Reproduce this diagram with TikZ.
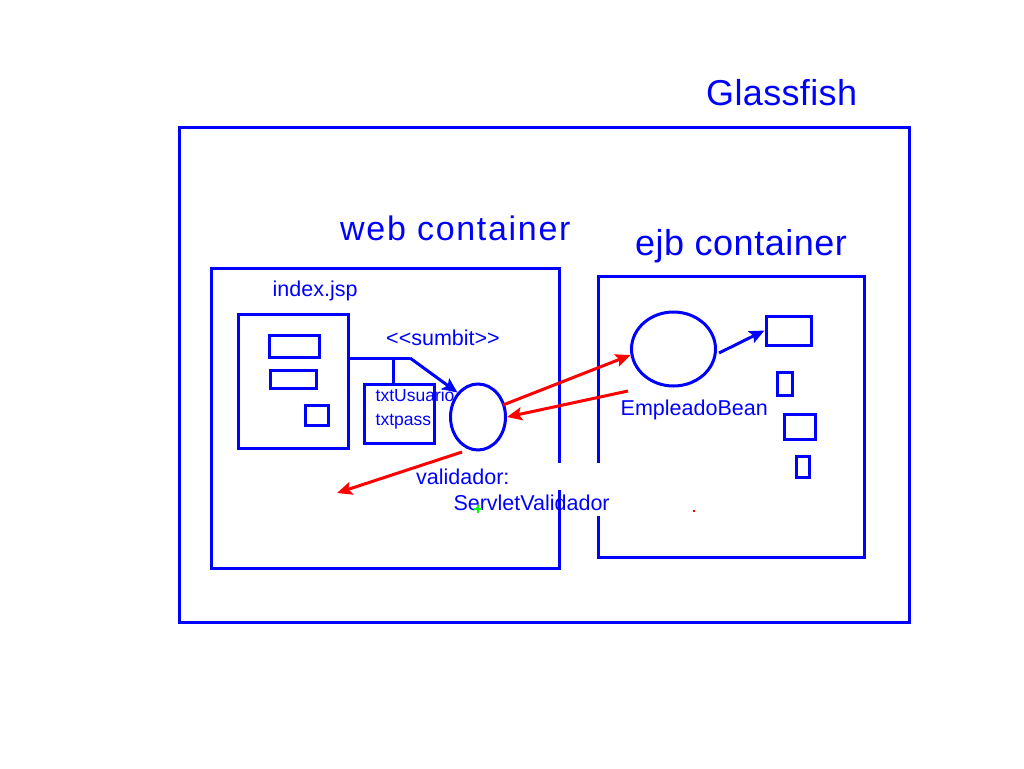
\documentclass[tikz,border=0pt]{standalone}
\usepackage{fontspec}
\setmainfont{Liberation Sans}
\usetikzlibrary{arrows.meta,shapes.geometric}
\definecolor{pblue}{RGB}{0,0,255}
\definecolor{pred}{RGB}{255,0,0}
\definecolor{pgreen}{RGB}{0,255,0}
\tikzset{
  bx/.style={draw=pblue, line width=3pt},
  bl/.style={draw=pblue, line width=3pt},
  rarr/.style={draw=pred, line width=3pt, -{Stealth[length=15pt,width=13pt,inset=3pt]}},
  barr/.style={draw=pblue, line width=3pt, -{Stealth[length=15pt,width=13pt,inset=3pt]}},
  lbl/.style={text=pblue, inner sep=0pt, anchor=base west},
  big/.style={lbl, font=\fontsize{36}{40}\selectfont},
  mid/.style={lbl, font=\fontsize{21.5}{24}\selectfont},
  sml/.style={lbl, font=\fontsize{17.5}{20}\selectfont},
}
\begin{document}
\begin{tikzpicture}[x=1pt,y=-1pt]
\useasboundingbox[fill=white] (0,0) rectangle (1024,768);
% containers
\node[bx, minimum width=730pt, minimum height=495pt, inner sep=0pt] (gf) at (544,374.5) {};
\node[bx, minimum width=348pt, minimum height=300pt, inner sep=0pt] (web) at (385,418) {};
\node[bx, minimum width=266pt, minimum height=281pt, inner sep=0pt] (ejb) at (731,416.5) {};
% gaps in the container edges
\fill[white] (556,463) rectangle (562,490);
\fill[white] (595,463) rectangle (601,516);
% form
\node[bx, minimum width=110pt, minimum height=134pt, inner sep=0pt] (form) at (293,381) {};
\node[bx, minimum width=50pt, minimum height=22pt, inner sep=0pt] (f1) at (294,346) {};
\node[bx, minimum width=46pt, minimum height=18pt, inner sep=0pt] (f2) at (293,379) {};
\node[bx, minimum width=23pt, minimum height=20pt, inner sep=0pt] (f3) at (316.5,415) {};
\node[bx, minimum width=70pt, minimum height=59pt, inner sep=0pt] (txt) at (399,413.5) {};
% servlet and bean
\node[bx, ellipse, minimum width=55pt, minimum height=66pt, inner sep=0pt] (srv) at (478,417) {};
\node[bx, ellipse, minimum width=84pt, minimum height=74pt, inner sep=0pt] (bean) at (673.5,349) {};
% ejb small boxes
\node[bx, minimum width=45pt, minimum height=29pt, inner sep=0pt] (e1) at (788.5,330.5) {};
\node[bx, minimum width=15pt, minimum height=23pt, inner sep=0pt] (e2) at (784.5,383.5) {};
\node[bx, minimum width=31pt, minimum height=25pt, inner sep=0pt] (e3) at (799.5,426.5) {};
\node[bx, minimum width=13pt, minimum height=21pt, inner sep=0pt] (e4) at (802.5,466.5) {};
% submit connector
\coordinate (s0) at (form.east |- 0,358);
\coordinate (s1) at (410,358);
\coordinate (s2) at (393,358);
\draw[bl] (s0) -- (s1);
\draw[barr] (s1) -- (srv.130);
\draw[bl] (s2) -- (s2 |- txt.north);
\coordinate (bo) at (719,353);
\draw[barr] (bo) -- (e1.west);
% red arrows
\coordinate (r1a) at (503,405);
\coordinate (r2a) at (628,391);
\coordinate (r3a) at (462,452);
\coordinate (r3b) at (337,493);
\draw[rarr] (r1a) -- (bean.188);
\draw[rarr] (r2a) -- (srv.east);
\draw[rarr] (r3a) -- (r3b);
% labels
\node[big] (tgf) at (706,105.7) {\addfontfeatures{LetterSpace=1}Glassfish};
\node[lbl, font=\fontsize{34}{38}\selectfont] (tweb) at (340,240.7) {\addfontfeatures{LetterSpace=5}web container};
\node[big] (tejb) at (635,255) {\addfontfeatures{LetterSpace=1.4}ejb container};
\node[mid] (tidx) at (272.5,296.7) {index.jsp};
\node[mid] (tsub) at (386,345) {<{}<sumbit>{}>};
\node[sml] (tu) at (375.5,401.7) {txtUsuario};
\node[sml] (tp) at (375.5,425) {txtpass};
\node[mid] (tbean) at (620.5,415) {EmpleadoBean};
\node[mid] (tval) at (416,484.3) {validador:};
\node[mid] (tsv) at (453.3,510) {ServletValidador};
% redraw web container edge over text
\draw[bl] (559,490) -- (559,568);
% stray marks
\draw[pgreen, line width=1.5pt] (474,509) -- (482,509) (478,505) -- (478,513);
\fill[pred] (693,510) rectangle (695,512);
\end{tikzpicture}
\end{document}
